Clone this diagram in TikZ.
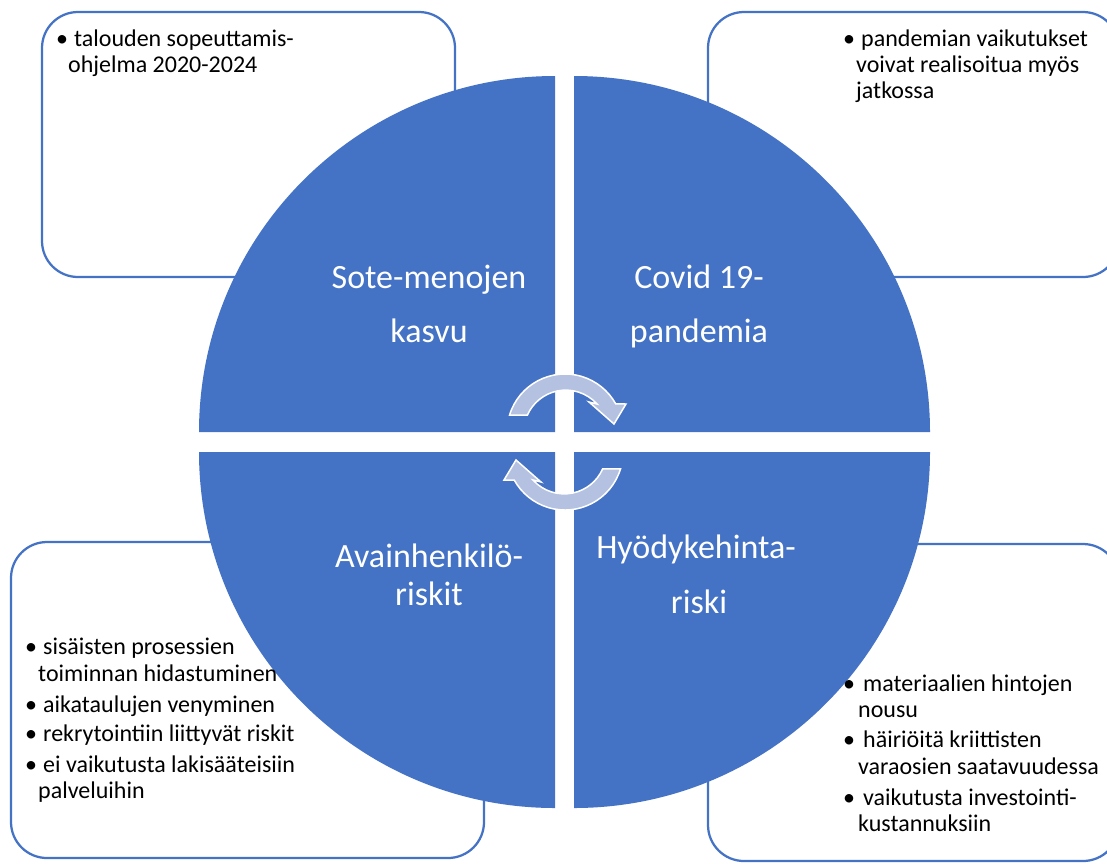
\documentclass[tikz,border=0pt]{standalone}
\usepackage{fontspec}
\setmainfont{Carlito}
\definecolor{qblue}{HTML}{4472C4}
\definecolor{arrowfill}{HTML}{B4C1E1}
\tikzset{
  infobox/.style={draw=qblue, line width=2.25pt, fill=white, rounded corners=36pt},
  quad/.style={fill=qblue},
  cyclearrow/.style={fill=arrowfill, draw=white, line width=1.5pt, line join=miter},
  qlabel/.style={text=white, anchor=base, inner sep=0pt, font=\fontsize{34}{40}\selectfont},
  bline/.style={anchor=base west, inner sep=0pt, font=\fontsize{24}{28}\selectfont},
  bdot/.style={anchor=base, inner sep=0pt, font=\fontsize{24}{28}\selectfont}
}
\begin{document}
\begin{tikzpicture}[x=1pt,y=-1pt]
\useasboundingbox (0,0) rectangle (1107,863);
\clip (0,0) rectangle (1107,863);
% text boxes
\draw[infobox] (42,12) rectangle (455,277);
\draw[infobox] (708,12) rectangle (1119,277);
\draw[infobox] (11,542) rectangle (484,858);
\draw[infobox] (708,544) rectangle (1119,861);
% quadrants
\fill[quad] (555,432) -- (555,76) arc[start angle=-90, end angle=-180, radius=356] -- cycle;
\fill[quad] (574,432) -- (574,76) arc[start angle=-90, end angle=0, radius=356] -- cycle;
\fill[quad] (555,452) -- (555,808) arc[start angle=90, end angle=180, radius=356] -- cycle;
\fill[quad] (574,452) -- (574,808) arc[start angle=90, end angle=0, radius=356] -- cycle;
% cycle arrows
\draw[cyclearrow] (565,432) ++(-163:58) arc[start angle=-163, end angle=-29, radius=58]
  -- (626,404) -- (614,424) -- (589,402) -- (597,404)
  arc[start angle=-42, end angle=-156, radius=42] -- cycle;
\begin{scope}[rotate around={180:(565,442)}]
\draw[cyclearrow] (565,432) ++(-163:58) arc[start angle=-163, end angle=-29, radius=58]
  -- (626,404) -- (614,424) -- (589,402) -- (597,404)
  arc[start angle=-42, end angle=-156, radius=42] -- cycle;
\end{scope}
% quadrant labels
\node[qlabel] (q1a) at (429,288) {Sote-menojen};
\node[qlabel] (q1b) at (429,342) {kasvu};
\node[qlabel] (q2a) at (699,288) {Covid 19-};
\node[qlabel] (q2b) at (699,342) {pandemia};
\node[qlabel] (q3a) at (429,567) {Avainhenkilö-};
\node[qlabel] (q3b) at (429,605) {riskit};
\node[qlabel] (q4a) at (696,558) {Hyödykehinta-};
\node[qlabel] (q4b) at (699,613) {riski};
% top-left text
\node[bdot] (tld1) at (62,46) {•};
\node[bline] (tl1) at (74,46) {talouden sopeuttamis-};
\node[bline] (tl2) at (68,72) {ohjelma 2020-2024};
% top-right text
\node[bdot] (trd1) at (849,46) {•};
\node[bline] (tr1) at (861,46) {pandemian vaikutukset};
\node[bline] (tr2) at (856,72) {voivat realisoitua myös};
\node[bline] (tr3) at (856,98) {jatkossa};
% bottom-left text
\node[bdot] (bld1) at (31,654) {•};
\node[bline] (bl1) at (43,654) {sisäisten prosessien};
\node[bline] (bl2) at (38,681) {toiminnan hidastuminen};
\node[bdot] (bld2) at (31,712) {•};
\node[bline] (bl3) at (43,712) {aikataulujen venyminen};
\node[bdot] (bld3) at (31,741) {•};
\node[bline] (bl4) at (43,741) {rekrytointiin liittyvät riskit};
\node[bdot] (bld4) at (31,772) {•};
\node[bline] (bl5) at (43,772) {ei vaikutusta lakisääteisiin};
\node[bline] (bl6) at (38,798) {palveluihin};
% bottom-right text
\node[bdot] (brd1) at (849,691) {•};
\node[bline] (br1) at (863,691) {materiaalien hintojen};
\node[bline] (br2) at (858,717) {nousu};
\node[bdot] (brd2) at (849,747) {•};
\node[bline] (br3) at (863,747) {häiriöitä kriittisten};
\node[bline] (br4) at (858,774) {varaosien saatavuudessa};
\node[bdot] (brd3) at (849,805) {•};
\node[bline] (br5) at (863,805) {vaikutusta investointi-};
\node[bline] (br6) at (858,831) {kustannuksiin};
\end{tikzpicture}
\end{document}
